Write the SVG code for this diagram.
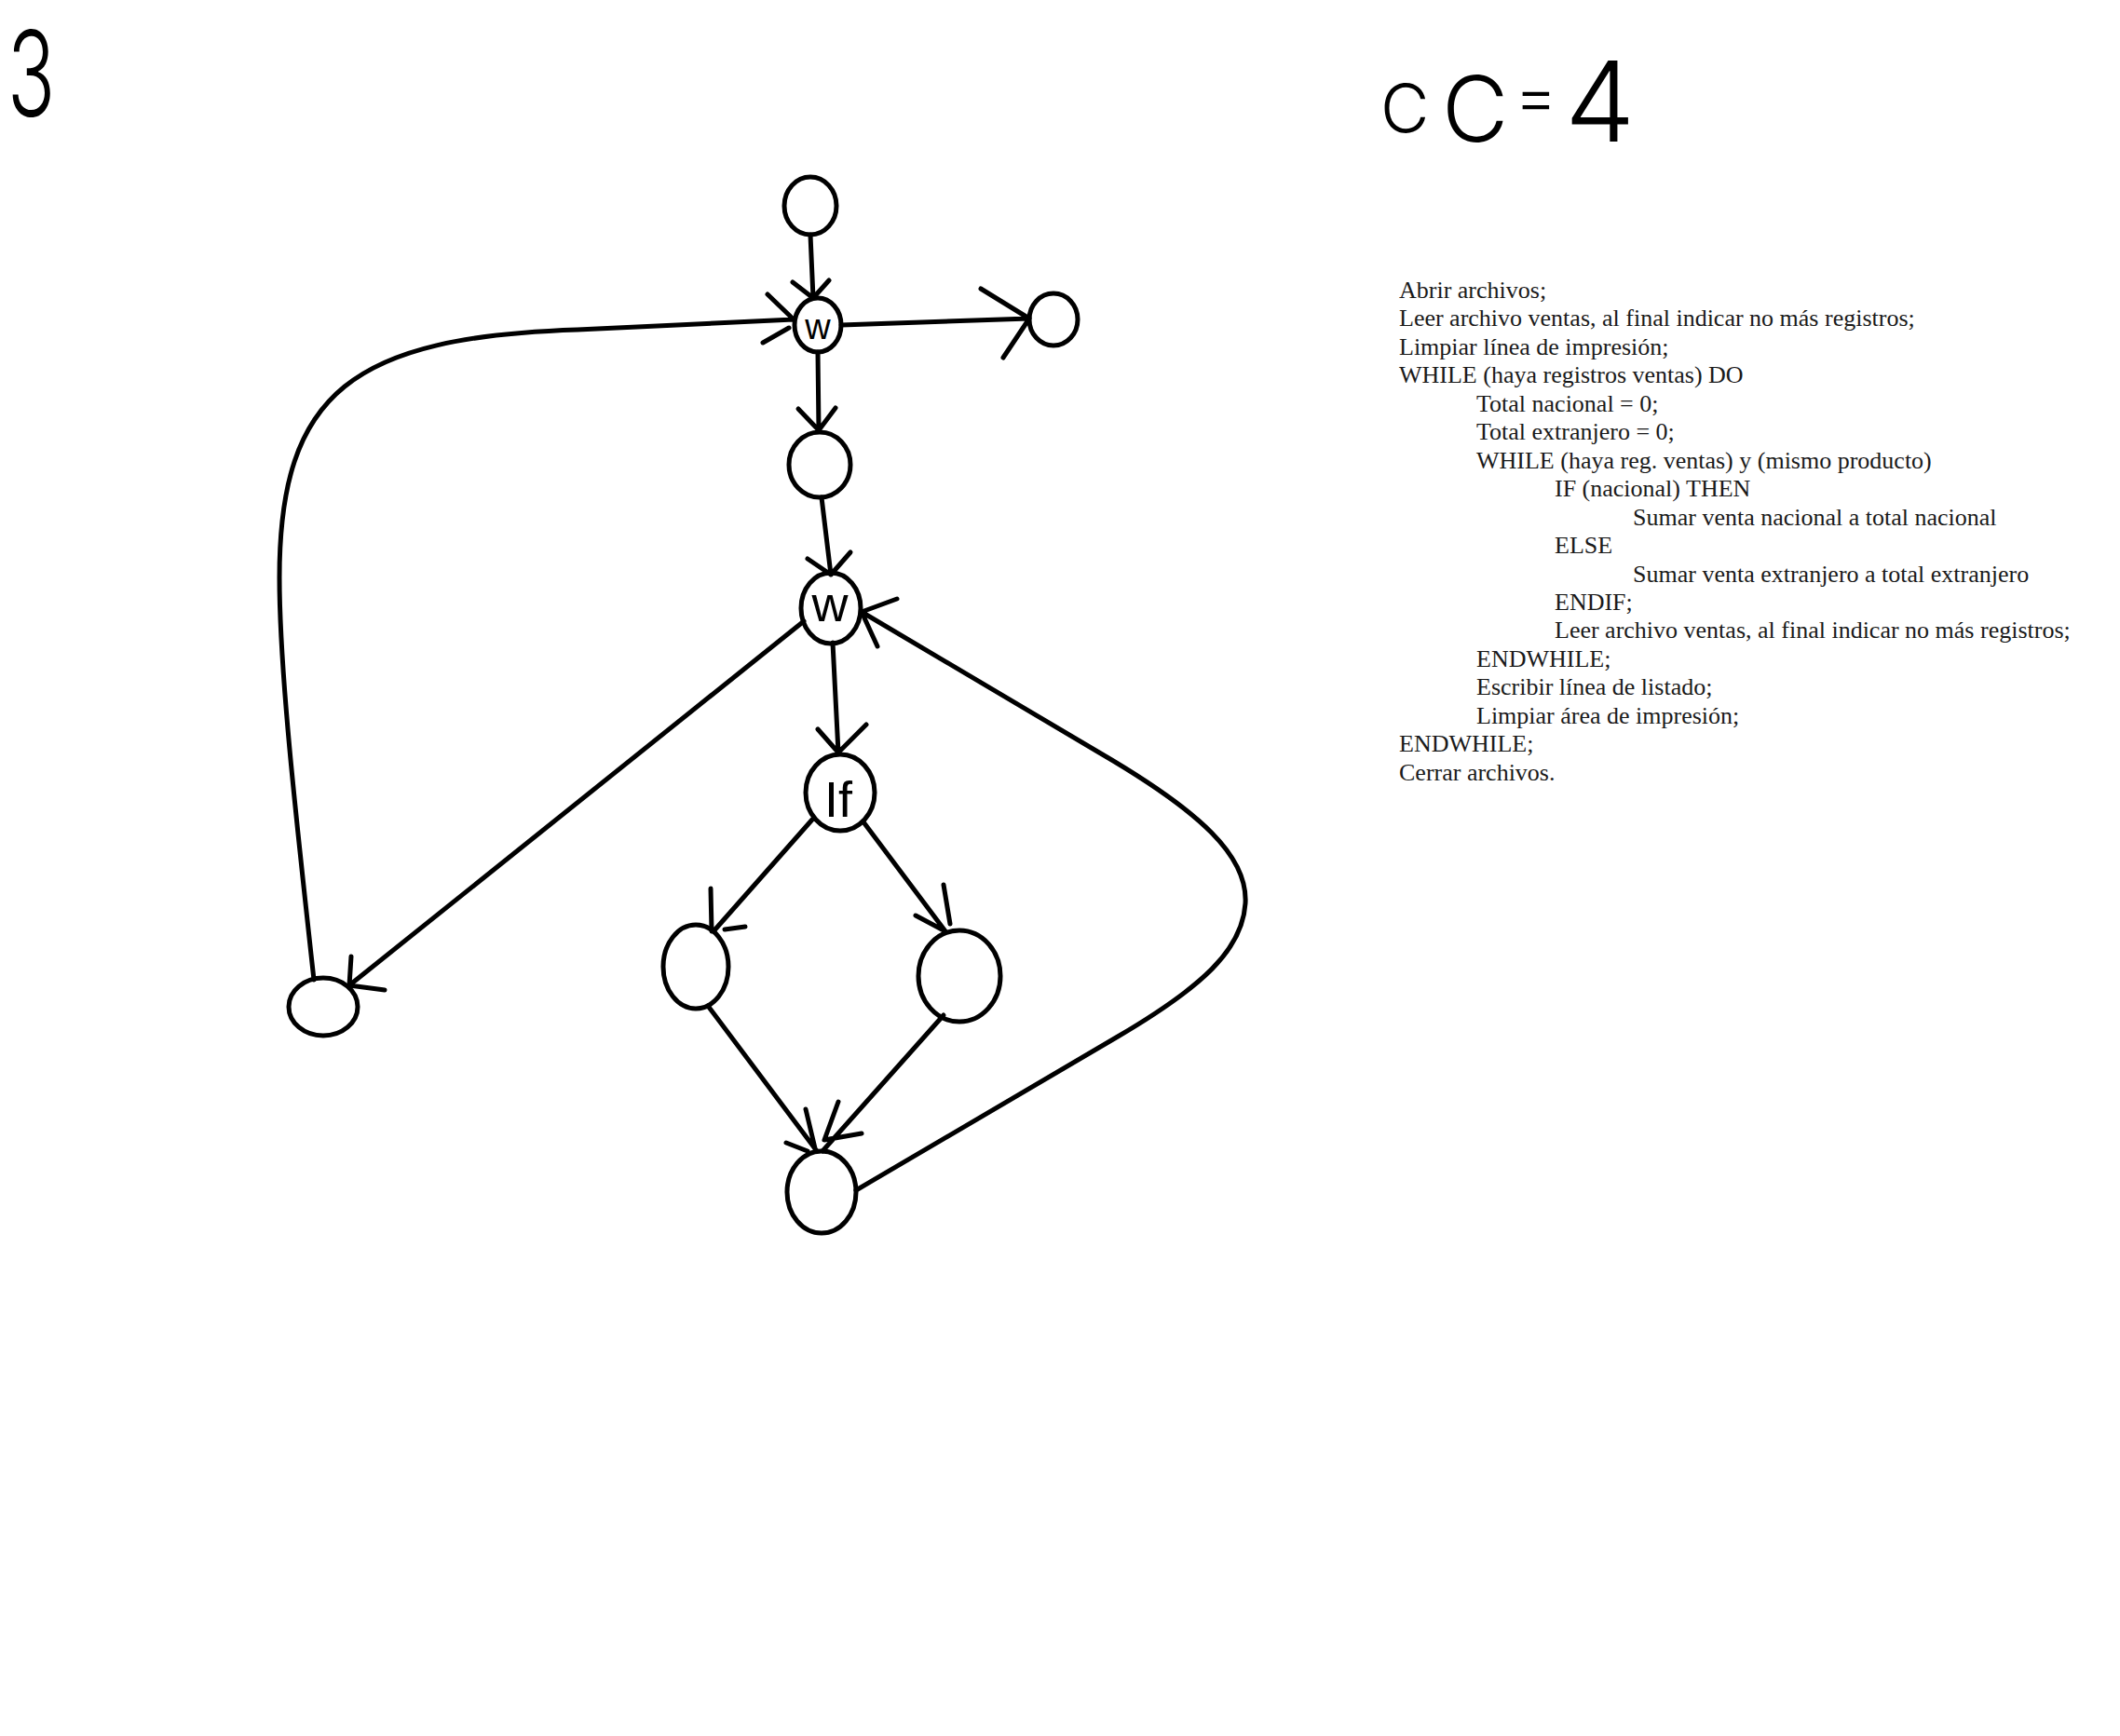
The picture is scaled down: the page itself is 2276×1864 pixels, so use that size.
<svg xmlns="http://www.w3.org/2000/svg" width="2276" height="1864" viewBox="0 0 2276 1864">
<defs>
<style>
.nd{fill:none;stroke:#000;stroke-width:5}
.ed{fill:none;stroke:#000;stroke-width:5;stroke-linecap:round;stroke-linejoin:round}
.hand{font-family:Inter,"Liberation Sans",sans-serif;font-weight:300;fill:#000}
.lbl{font-family:"Liberation Sans",Arial,sans-serif;fill:#000;text-anchor:middle}
.code{font-family:"Liberation Serif","Times New Roman",serif;font-size:26px;fill:#1a1a1a}
</style>
</defs>
<rect width="2276" height="1864" fill="#fff"/>

<g id="title-3">
<text class="hand" transform="translate(8,125) scale(0.66,1)" font-size="128">3</text>
</g>
<g id="cc4">
<text class="hand"><tspan x="1482" y="142" font-size="72">C</tspan><tspan x="1548" y="152" font-size="98">C</tspan><tspan x="1626" y="128" font-size="70">=</tspan><tspan x="1680" y="152" font-size="120">4</tspan></text>
</g>

<g id="connectors">
<!-- start -> W1 -->
<path class="ed" d="M870 252 L873 320 M851 303 L873 320 L890 301"/>
<!-- W1 -> exit -->
<path class="ed" d="M903 349 L1105 342 M1053 310 L1105 342 L1077 384"/>
<!-- W1 -> node3 -->
<path class="ed" d="M878 378 L879 462 M857 439 L879 462 L897 438"/>
<!-- node3 -> W2 -->
<path class="ed" d="M882 534 L892 617 M867 600 L892 617 L913 593"/>
<!-- W2 -> IF -->
<path class="ed" d="M894 690 L900 808 M878 783 L900 808 L930 778"/>
<!-- W2 -> far -->
<path class="ed" d="M863 667 L375 1058 M377 1027 L375 1058 L413 1063"/>
<!-- far -> W1 (loop back) -->
<path class="ed" d="M337 1052 C 318 880, 300 720, 300 620 C 300 420, 380 362, 620 354 L 852 343 M824 316 L852 343 M819 368 L847 352"/>
<!-- IF -> L -->
<path class="ed" d="M872 880 L766 1000 M763 954 L764 1000 M778 998 L800 995"/>
<!-- IF -> R -->
<path class="ed" d="M928 884 L1015 1000 M1013 950 L1020 992 M983 983 L1015 1000"/>
<!-- L -> B -->
<path class="ed" d="M760 1080 L877 1236 M865 1191 L875 1233 M844 1227 L867 1236"/>
<!-- R -> B -->
<path class="ed" d="M1013 1090 L883 1236 M900 1183 L885 1224 L925 1217"/>
<!-- B -> W2 (loop back) -->
<path class="ed" d="M919 1278 L1200 1113 C 1290 1060, 1334 1020, 1337 970 C 1340 920, 1290 872, 1180 808 L925 657 M963 643 L925 657 L942 694"/>
</g>

<g id="n-start"><ellipse class="nd" cx="870" cy="221" rx="28" ry="31"/></g>
<g id="n-w1"><ellipse class="nd" cx="878" cy="349" rx="25" ry="29"/><text class="lbl" x="878" y="364" font-size="38">w</text></g>
<g id="n-exit"><ellipse class="nd" cx="1131" cy="343" rx="26" ry="28"/></g>
<g id="n-3"><ellipse class="nd" cx="880" cy="499" rx="33" ry="35"/></g>
<g id="n-w2"><ellipse class="nd" cx="892" cy="653" rx="32" ry="38"/><text class="lbl" x="891" y="667" font-size="54">w</text></g>
<g id="n-if"><ellipse class="nd" cx="902" cy="851" rx="37" ry="41"/><text class="lbl" x="900" y="877" font-size="54">If</text></g>
<g id="n-l"><ellipse class="nd" cx="747" cy="1038" rx="35" ry="45"/></g>
<g id="n-r"><ellipse class="nd" cx="1030" cy="1048" rx="44" ry="49"/></g>
<g id="n-b"><ellipse class="nd" cx="882" cy="1280" rx="37" ry="44"/></g>
<g id="n-far"><ellipse class="nd" cx="347" cy="1081" rx="37" ry="31"/></g>

<g id="pseudocode" class="code">
<text x="1502" y="320">Abrir archivos;</text>
<text x="1502" y="350">Leer archivo ventas, al final indicar no más registros;</text>
<text x="1502" y="381">Limpiar línea de impresión;</text>
<text x="1502" y="411">WHILE (haya registros ventas) DO</text>
<text x="1585" y="442">Total nacional = 0;</text>
<text x="1585" y="472">Total extranjero = 0;</text>
<text x="1585" y="503">WHILE (haya reg. ventas) y (mismo producto)</text>
<text x="1669" y="533">IF (nacional) THEN</text>
<text x="1753" y="564">Sumar venta nacional a total nacional</text>
<text x="1669" y="594">ELSE</text>
<text x="1753" y="625">Sumar venta extranjero a total extranjero</text>
<text x="1669" y="655">ENDIF;</text>
<text x="1669" y="685">Leer archivo ventas, al final indicar no más registros;</text>
<text x="1585" y="716">ENDWHILE;</text>
<text x="1585" y="746">Escribir línea de listado;</text>
<text x="1585" y="777">Limpiar área de impresión;</text>
<text x="1502" y="807">ENDWHILE;</text>
<text x="1502" y="838">Cerrar archivos.</text>
</g>
</svg>
